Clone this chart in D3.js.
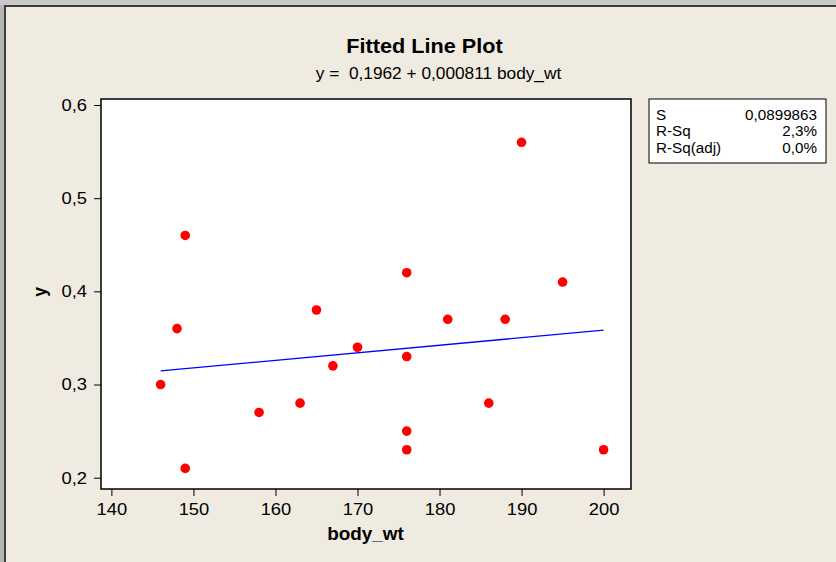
<!DOCTYPE html>
<html>
<head>
<meta charset="utf-8">
<script src="https://cdn.jsdelivr.net/npm/d3@7"></script>
<style>
  html, body { margin: 0; padding: 0; background: #c8c8c8; }
  svg { display: block; }
</style>
</head>
<body>
<script>
// Observations: body weight and response
const bodyWt = [146, 148, 149, 149, 158, 163, 165, 167, 170, 176, 176, 176, 176, 181, 186, 188, 190, 195, 200];
const yVals  = [0.30, 0.36, 0.46, 0.21, 0.27, 0.28, 0.38, 0.32, 0.34, 0.42, 0.33, 0.25, 0.23, 0.37, 0.28, 0.37, 0.56, 0.41, 0.23];

// Regression fit
const intercept = 0.1962;
const slope = 0.000811;

// Axis ticks
const xTicks = [140, 150, 160, 170, 180, 190, 200];
const yTicks = [0.2, 0.3, 0.4, 0.5, 0.6];

// Summary statistics
const statNames  = ["S", "R-Sq", "R-Sq(adj)"];
const statValues = ["0,0899863", "2,3%", "0,0%"];

const W = 836, H = 562;
const font = "'Liberation Sans', Arial, sans-serif";
const stretch = 1.08;               // slightly wide lettering
const comma = v => String(v).replace(".", ",");

const svg = d3.select("body").append("svg").attr("width", W).attr("height", H);

// Window frame
svg.append("rect").attr("width", W).attr("height", H).attr("fill", "#b4b4b4");
svg.append("rect").attr("x", 0).attr("y", 0).attr("width", W).attr("height", 5).attr("fill", "#c8c8c8");
svg.append("rect").attr("x", 4).attr("y", 5).attr("width", W - 4).attr("height", H - 5).attr("fill", "#3c3c3c");
svg.append("rect").attr("x", 6).attr("y", 7).attr("width", W - 6).attr("height", H - 7).attr("fill", "#efebe1");

// Text helper with horizontal stretch
function label(x, y, str, size, opts = {}) {
  return svg.append("text")
    .attr("transform", `translate(${x},${y}) ${opts.rotate ? "rotate(-90) " : ""}scale(${opts.sx || stretch},1)`)
    .attr("text-anchor", opts.anchor || "start")
    .attr("font-family", font).attr("font-size", size)
    .attr("font-weight", opts.bold ? "bold" : "normal")
    .attr("xml:space", "preserve")
    .attr("fill", "#000")
    .text(str);
}

// Plot area
const plot = { left: 101, right: 631, top: 99, bottom: 489 };
const x = d3.scaleLinear().domain([140, 200]).range([111.4, 603.6]);
const y = d3.scaleLinear().domain([0.2, 0.6]).range([477.7, 105]);

svg.append("rect")
  .attr("x", plot.left).attr("y", plot.top)
  .attr("width", plot.right - plot.left).attr("height", plot.bottom - plot.top)
  .attr("fill", "#ffffff").attr("stroke", "#000").attr("stroke-width", 1.5);

// Axes
const xAxis = svg.append("g").attr("transform", `translate(0,${plot.bottom})`)
  .call(d3.axisBottom(x).tickValues(xTicks).tickSize(7).tickSizeOuter(0).tickFormat(d => d));
const yAxis = svg.append("g").attr("transform", `translate(${plot.left},0)`)
  .call(d3.axisLeft(y).tickValues(yTicks).tickSize(7).tickPadding(6).tickFormat(d => comma(d)));
[xAxis, yAxis].forEach(g => {
  g.select(".domain").remove();
  g.selectAll("line").attr("stroke", "#000").attr("stroke-width", 1);
  g.selectAll("text").attr("font-family", font).attr("font-size", 17).attr("fill", "#000")
    .attr("transform", `scale(${stretch},1)`);
});
xAxis.selectAll("text").attr("y", 26).attr("dy", 0);

// Fitted line
const xMin = d3.min(bodyWt), xMax = d3.max(bodyWt);
const line = d3.line().x(d => x(d)).y(d => y(intercept + slope * d));
svg.append("path").datum([xMin, xMax])
  .attr("d", line).attr("fill", "none").attr("stroke", "#0000ff").attr("stroke-width", 1.3);

// Points
svg.append("g").selectAll("circle")
  .data(bodyWt.map((b, i) => [b, yVals[i]]))
  .join("circle")
  .attr("cx", d => x(d[0])).attr("cy", d => y(d[1])).attr("r", 4.8)
  .attr("fill", "#ff0000");

// Titles
label(424.5, 52.5, "Fitted Line Plot", 19.5, { anchor: "middle", bold: true, sx: 1.11 });
label(438.5, 78.5, `y =  ${comma(intercept)} + ${comma(slope)} body_wt`, 16, { anchor: "middle" });
label(365.5, 540, "body_wt", 17.5, { anchor: "middle", bold: true });
label(46, 292, "y", 17.5, { anchor: "middle", bold: true, rotate: true, sx: 1 });

// Statistics box
const box = { x: 649, y: 99, w: 177, h: 64 };
svg.append("rect").attr("x", box.x).attr("y", box.y).attr("width", box.w).attr("height", box.h)
  .attr("fill", "#ffffff").attr("stroke", "#000").attr("stroke-width", 1);
statNames.forEach((n, i) => {
  const ty = 119.5 + i * 16.8;
  label(box.x + 7, ty, n, 14.5, { sx: 1.05 });
  label(box.x + box.w - 9, ty, statValues[i], 14.5, { anchor: "end", sx: 1.05 });
});
</script>
</body>
</html>
